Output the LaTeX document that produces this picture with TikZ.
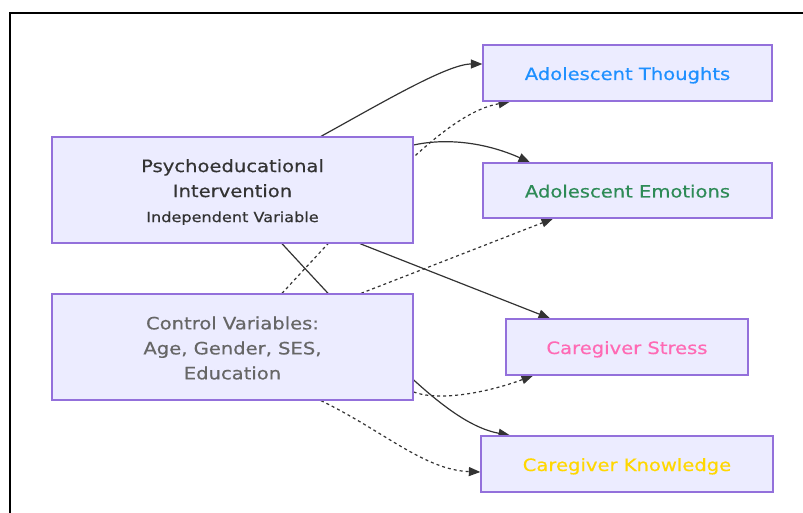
\documentclass[tikz,border=0pt]{standalone}
\usepackage{fontspec}
\setmainfont[FakeStretch=1.15,FakeBold=0.5]{DejaVu Sans}
\usetikzlibrary{arrows.meta,backgrounds}
\definecolor{boxfill}{HTML}{ECECFF}
\definecolor{boxline}{HTML}{9370DB}
\definecolor{edgeline}{HTML}{333333}
\definecolor{maintext}{HTML}{333333}
\definecolor{ctrltext}{HTML}{666666}
\definecolor{thoughtc}{HTML}{1E90FF}
\definecolor{emotionc}{HTML}{2E8B57}
\definecolor{stressc}{HTML}{FF69B4}
\definecolor{knowc}{HTML}{FFD700}
\begin{document}
\begin{tikzpicture}[x=1pt,y=-1pt,
  box/.style={draw=boxline, fill=boxfill, line width=1.3pt, inner sep=0pt,
    align=center, font=\fontsize{17}{25}\selectfont},
  single/.style={box, text height=14pt, text depth=0pt},
  link/.style={draw=edgeline, line width=1.2pt,
    -{Triangle[length=11.5pt,width=9pt]}},
  hint/.style={link, dash pattern=on 3pt off 3pt}]
\useasboundingbox (0,0) rectangle (803,513);

% left column
\node[box, minimum width=361pt, minimum height=106pt, text=maintext] (pi) at (232.5,190)
  {\rule{0pt}{17pt}Psychoeducational\\Intervention\\{\fontsize{14}{25}\selectfont Independent Variable}};
\node[box, minimum width=361pt, minimum height=106pt, text=ctrltext] (cv) at (232.5,347)
  {\rule{0pt}{15pt}Control Variables:\\Age, Gender, SES,\\Education};

% right column
\node[single, minimum width=289pt, minimum height=56pt, text=thoughtc] (at) at (627.5,73)
  {Adolescent Thoughts};
\node[single, minimum width=289pt, minimum height=55pt, text=emotionc] (ae) at (627.5,190.5)
  {Adolescent Emotions};
\node[single, minimum width=242pt, minimum height=56pt, text=stressc] (cs) at (627,347)
  {Caregiver Stress};
\node[single, minimum width=292pt, minimum height=56pt, text=knowc] (ck) at (627,464)
  {Caregiver Knowledge};

\begin{scope}[on background layer]
  % outer frame
  \draw[line width=2pt] (10,13.5) rectangle (840,560);
  % effects of the intervention
  \draw[link] ([xshift=88.5pt]pi.north) .. controls +(60,-33) and +(-35,0) .. ([yshift=9pt]at.west);
  \draw[link] ([yshift=45pt]pi.east) .. controls +(37,-8) and +(-40,-18) .. ([xshift=-97.5pt]ae.north);
  \draw[link] ([xshift=127.5pt]pi.south) -- ([xshift=-77pt]cs.north);
  \draw[link] ([xshift=49.5pt]pi.south) .. controls +(108,117) and +(-60,-11) .. ([xshift=-117pt]ck.north);
  % effects of the control variables
  \draw[hint] ([xshift=49.5pt]cv.north) .. controls +(108,-117) and +(-60,11) .. ([xshift=-117.5pt]at.south);
  \draw[hint] ([xshift=128.5pt]cv.north) -- ([xshift=-74.5pt]ae.south);
  \draw[hint] ([yshift=-45pt]cv.east) .. controls +(27,10) and +(-43,16) .. ([xshift=-94pt]cs.south);
  \draw[hint] ([xshift=88.5pt]cv.south) .. controls +(62,30) and +(-56,-2) .. ([yshift=-8pt]ck.west);
\end{scope}
\end{tikzpicture}
\end{document}
